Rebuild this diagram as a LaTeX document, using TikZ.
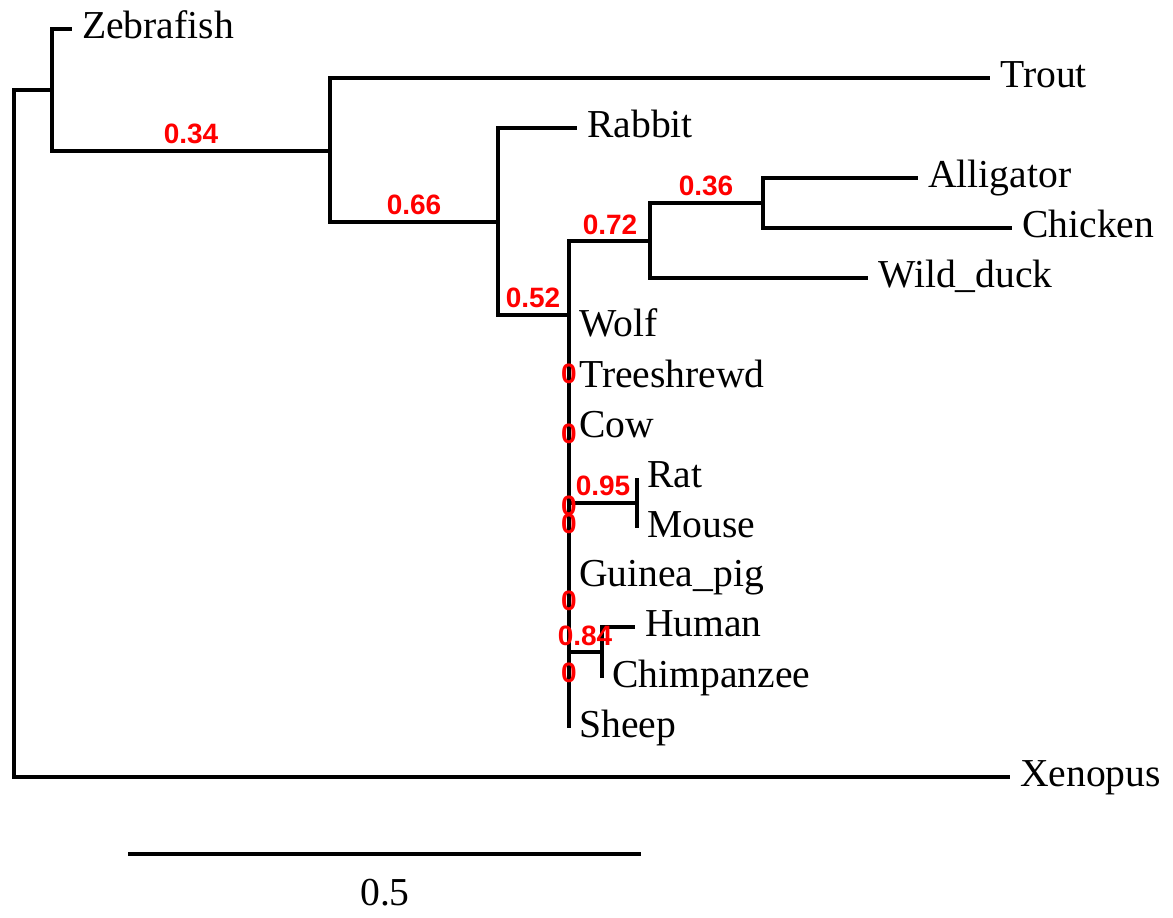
\documentclass[tikz,border=0pt]{standalone}
\usepackage{fontspec}
\setmainfont{Liberation Serif}
\newfontfamily\lblfont{Liberation Sans}
\begin{document}
\begin{tikzpicture}[x=1pt,y=-1pt,
  br/.style={line width=3.9pt},
  leaf/.style={anchor=base west, inner sep=0pt, font=\fontsize{39.6}{40}\selectfont, xshift=10pt, yshift=-9pt},
  boot/.style={anchor=base, inner sep=0pt, text=red, font=\lblfont\bfseries\fontsize{28}{28}\selectfont}]
\useasboundingbox (0,0) rectangle (1173,918);
% internal nodes
\coordinate (R) at (14,433);
\coordinate (A) at (52,90);
\coordinate (B) at (330,151);
\coordinate (C) at (498,222);
\coordinate (D) at (569,315);
\coordinate (E) at (650,241);
\coordinate (F) at (763,203);
\coordinate (RM) at (569,503);
\coordinate (RMn) at (637,503);
\coordinate (HC) at (569,652);
\coordinate (HCn) at (602,652);
% leaf ends
\coordinate (zeb) at (72,29);
\coordinate (tro) at (990,78);
\coordinate (rab) at (577,128);
\coordinate (all) at (918,178);
\coordinate (chi) at (1012,228);
\coordinate (wdu) at (868,278);
\coordinate (wol) at (569,327);
\coordinate (tre) at (569,378);
\coordinate (cow) at (569,428);
\coordinate (rat) at (637,478);
\coordinate (mou) at (637,528);
\coordinate (gui) at (569,577);
\coordinate (hum) at (635,627);
\coordinate (chp) at (602,678);
\coordinate (she) at (569,728);
\coordinate (xen) at (1010,777);
% branches
\draw[br] (R) |- (A);
\draw[br] (R) |- (xen);
\draw[br] (A) |- (zeb);
\draw[br] (A) |- (B);
\draw[br] (B) |- (tro);
\draw[br] (B) |- (C);
\draw[br] (C) |- (rab);
\draw[br] (C) |- (D);
\draw[br] (D) |- (E);
\draw[br] (D) -- (she);
\draw[br] (E) |- (F);
\draw[br] (E) |- (wdu);
\draw[br] (F) |- (all);
\draw[br] (F) |- (chi);
\draw[br] (RM) -- (RMn);
\draw[br] (RMn) |- (rat);
\draw[br] (RMn) |- (mou);
\draw[br] (HC) -- (HCn);
\draw[br] (HCn) |- (hum);
\draw[br] (HCn) -- (chp);
% leaf labels
\node[leaf] (tzeb) at (zeb) {Zebrafish};
\node[leaf] (ttro) at (tro) {Trout};
\node[leaf] (trab) at (rab) {Rabbit};
\node[leaf] (tall) at (all) {Alligator};
\node[leaf] (tchi) at (chi) {Chicken};
\node[leaf] (twdu) at (wdu) {Wild\_duck};
\node[leaf] (twol) at (wol) {Wolf};
\node[leaf] (ttre) at (tre) {Treeshrewd};
\node[leaf] (tcow) at (cow) {Cow};
\node[leaf] (trat) at (rat) {Rat};
\node[leaf] (tmou) at (mou) {Mouse};
\node[leaf] (tgui) at (gui) {Guinea\_pig};
\node[leaf] (thum) at (hum) {Human};
\node[leaf] (tchp) at (chp) {Chimpanzee};
\node[leaf] (tshe) at (she) {Sheep};
\node[leaf] (txen) at (xen) {Xenopus};
% bootstrap values
\node[boot] (b34) at (191,143) {0.34};
\node[boot] (b66) at (414,214) {0.66};
\node[boot] (b52) at (533,307) {0.52};
\node[boot] (b72) at (610,234) {0.72};
\node[boot] (b36) at (706,195) {0.36};
\node[boot] (b95) at (603,495) {0.95};
\node[boot] (b84) at (585,645) {0.84};
\node[boot] (z1) at (569,383) {0};
\node[boot] (z2) at (569,443) {0};
\node[boot] (z3) at (569,515) {0};
\node[boot] (z4) at (569,533) {0};
\node[boot] (z5) at (569,610) {0};
\node[boot] (z6) at (569,682) {0};
% scale bar
\coordinate (s1) at (128,854);
\coordinate (s2) at (641,854);
\draw[br] (s1) -- (s2);
\node[anchor=base, inner sep=0pt, font=\fontsize{39.6}{40}\selectfont] (sl) at (385,905) {0.5};
\end{tikzpicture}
\end{document}
